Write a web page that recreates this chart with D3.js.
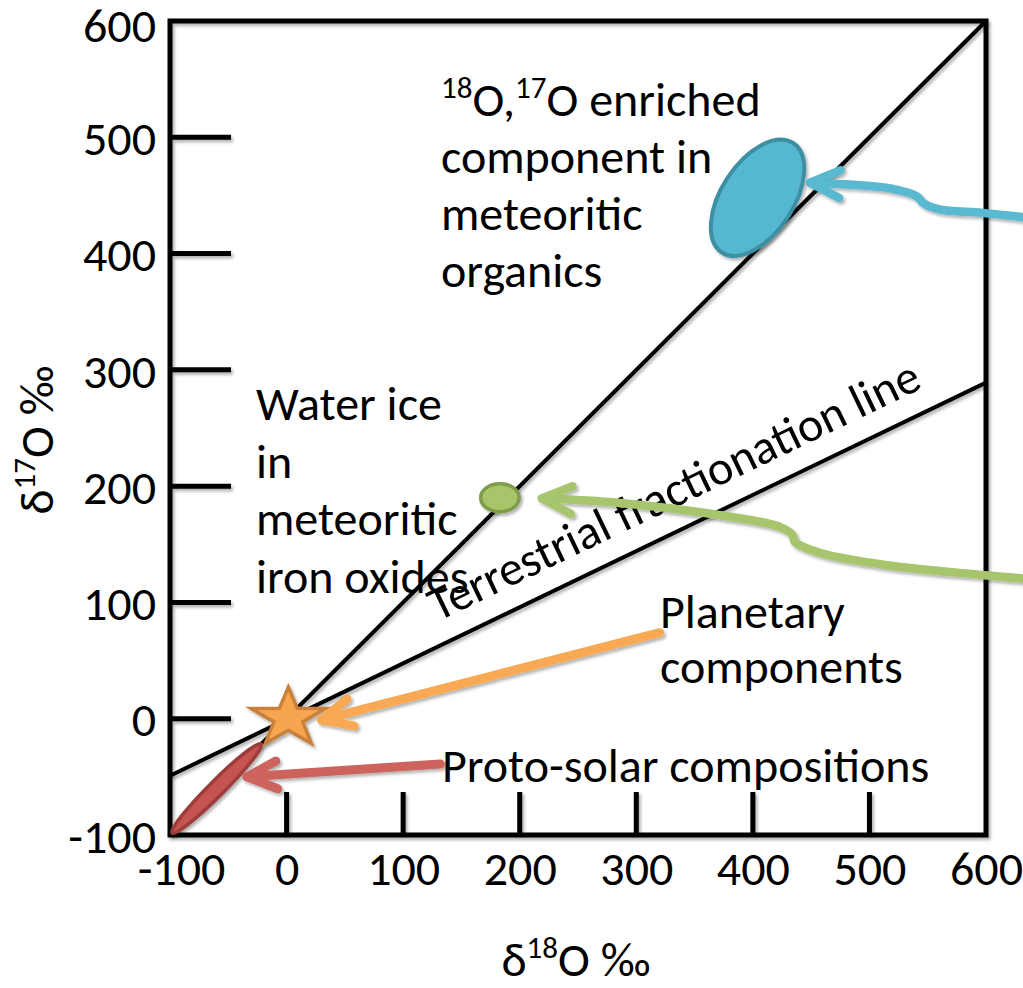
<!DOCTYPE html>
<html><head><meta charset="utf-8">
<script src="https://cdn.jsdelivr.net/npm/d3@7"></script>
<style>
body{margin:0;background:#fff}
svg{display:block}
text{font-family:Carlito,Calibri,Lato,sans-serif;fill:#000}
</style>
</head><body>
<svg id="chart" width="1023" height="988"></svg>
<script>
// ---- data ----
const xTickValues = [-100, 0, 100, 200, 300, 400, 500, 600];
const yTickValues = [-100, 0, 100, 200, 300, 400, 500, 600];
const innerTickValues = [0, 100, 200, 300, 400, 500];
const oneToOneLine = [[-100, -100], [600, 600]];
const terrestrialLine = [[-100, -49], [600, 289]];
const organicsEllipse = {cx: 404, cy: 448, a: 56, b: 31, angle: 57};
const waterIceEllipse = {cx: 183, cy: 190, a: 16.5, b: 12, angle: 0};
const protoSolarEllipse = {cx: -60, cy: -60, a: 54, b: 6.5, angle: 45};
const planetaryStar = {x: 1.5, y: 0.5};
const blueArrow = [[449, 461], [489, 459], [518, 456], [541, 449], [546, 443.5], [560, 438], [597, 435], [638, 430.6]];
const greenArrow = [[219, 189.5], [286, 185.5], [372, 175], [423, 165], [434, 158], [436, 152], [458, 142.5], [515, 132], [597, 123.6], [638, 120]];
const orangeArrow = [[30, -1], [320, 74]];
const redArrow = [[-34, -50], [132, -39]];

// ---- scales ----
const svg = d3.select("#chart");
const x = d3.scaleLinear().domain([-100, 600]).range([170, 986]);
const y = d3.scaleLinear().domain([-100, 600]).range([835, 21]);

const defs = svg.append("defs");
const f = defs.append("filter").attr("id", "shadow").attr("filterUnits", "userSpaceOnUse")
  .attr("x", 0).attr("y", 0).attr("width", 1023).attr("height", 988);
f.append("feDropShadow").attr("dx", 2).attr("dy", 2.5).attr("stdDeviation", 1.6)
  .attr("flood-color", "#000").attr("flood-opacity", 0.3);

const FS = 48, SUP = 31, SUPDY = 18;

// ---- frame & ticks ----
const g = svg.append("g").attr("filter", "url(#shadow)");
g.append("rect").attr("x", x(-100)).attr("y", y(600))
  .attr("width", x(600) - x(-100)).attr("height", y(-100) - y(600))
  .attr("fill", "none").attr("stroke", "#000").attr("stroke-width", 5);
g.selectAll(".yt").data(innerTickValues).join("line")
  .attr("x1", x(-100)).attr("x2", x(-100) + 61)
  .attr("y1", d => y(d)).attr("y2", d => y(d))
  .attr("stroke", "#000").attr("stroke-width", 5);
g.selectAll(".xt").data(innerTickValues).join("line")
  .attr("x1", d => x(d)).attr("x2", d => x(d))
  .attr("y1", y(-100)).attr("y2", y(-100) - 43)
  .attr("stroke", "#000").attr("stroke-width", 5);

// axis labels
const fmt = d => String(d);
const yAxis = svg.append("g").attr("transform", `translate(${x(-100)},0)`)
  .call(d3.axisLeft(y).tickValues(yTickValues).tickSize(0).tickPadding(14).tickFormat(fmt));
yAxis.select(".domain").remove();
yAxis.selectAll("text").attr("font-size", FS).attr("font-family", null)
  .attr("dy", d => d === 600 ? "0.42em" : "0.36em");

const xAxis = svg.append("g").attr("transform", `translate(0,${y(-100)})`)
  .call(d3.axisBottom(x).tickValues(xTickValues).tickSize(0).tickFormat(fmt));
xAxis.select(".domain").remove();
xAxis.selectAll("text").attr("font-size", FS).attr("font-family", null)
  .attr("y", 50).attr("dy", 0)
  .attr("dx", d => d === -100 ? 11 : 0);

// ---- reference lines ----
const lineGen = d3.line().x(d => x(d[0])).y(d => y(d[1]));
const lg = svg.append("g").attr("filter", "url(#shadow)");
lg.append("path").attr("d", lineGen(oneToOneLine)).attr("stroke", "#000").attr("stroke-width", 4).attr("fill", "none");
lg.append("path").attr("d", lineGen(terrestrialLine)).attr("stroke", "#000").attr("stroke-width", 4).attr("fill", "none");

// ---- text ----
function multiline(lines, x0, y0, dy) {
  const t = svg.append("text").attr("font-size", FS);
  lines.forEach((ln, i) => t.append("tspan").attr("x", x0).attr("y", y0 + i * dy).text(ln));
  return t;
}
const t1 = svg.append("text").attr("font-size", FS).attr("x", 441).attr("y", 116);
t1.append("tspan").attr("font-size", SUP).attr("dy", -SUPDY).text("18");
t1.append("tspan").attr("dy", SUPDY).text("O,");
t1.append("tspan").attr("font-size", SUP).attr("dy", -SUPDY).text("17");
t1.append("tspan").attr("dy", SUPDY).text("O enriched");
multiline(["component in", "meteoritic", "organics"], 441, 173, 57);
multiline(["Water ice", "in", "meteoritic", "iron oxides"], 256, 420, 57.5);
multiline(["Planetary", "components"], 660, 628, 55);
multiline(["Proto-solar compositions"], 442, 782, 0);

// terrestrial label along line
{
  const p0 = [x(terrestrialLine[0][0]), y(terrestrialLine[0][1])];
  const p1 = [x(terrestrialLine[1][0]), y(terrestrialLine[1][1])];
  const ang = Math.atan2(p1[1] - p0[1], p1[0] - p0[0]);
  const s = 138;
  const t = (s - terrestrialLine[0][0]) / (terrestrialLine[1][0] - terrestrialLine[0][0]);
  const fx = p0[0] + t * (p1[0] - p0[0]), fy = p0[1] + t * (p1[1] - p0[1]);
  const d = 22.5;
  const nx = Math.sin(ang), ny = -Math.cos(ang);
  svg.append("text").attr("font-size", FS)
    .attr("transform", `translate(${fx + d * nx},${fy + d * ny}) rotate(${ang * 180 / Math.PI})`)
    .text("Terrestrial fractionation line");
}

// axis titles
const xt = svg.append("text").attr("font-size", FS).attr("text-anchor", "middle").attr("x", 576).attr("y", 976);
xt.append("tspan").text("δ");
xt.append("tspan").attr("font-size", SUP).attr("dy", -SUPDY).text("18");
xt.append("tspan").attr("dy", SUPDY).text("O ‰");
const yt = svg.append("text").attr("font-size", FS).attr("text-anchor", "middle")
  .attr("transform", "translate(53,440) rotate(-90)");
yt.append("tspan").text("δ");
yt.append("tspan").attr("font-size", SUP).attr("dy", -SUPDY).text("17");
yt.append("tspan").attr("dy", SUPDY).text("O ‰");

// ---- shapes ----
const sg = svg.append("g").attr("filter", "url(#shadow)");
function drawEllipse(e, fill, stroke, sw) {
  const cx = x(e.cx), cy = y(e.cy);
  sg.append("ellipse").attr("cx", cx).attr("cy", cy)
    .attr("rx", x(e.cx + e.a) - cx).attr("ry", cy - y(e.cy + e.b))
    .attr("transform", `rotate(${-e.angle},${cx},${cy})`)
    .attr("fill", fill).attr("stroke", stroke).attr("stroke-width", sw);
}
drawEllipse(organicsEllipse, "#57b8d0", "#3d8fa4", 4);
drawEllipse(waterIceEllipse, "#a8c56b", "#7e9c4a", 3.5);
drawEllipse(protoSolarEllipse, "#c5534f", "#9d3d3a", 3.5);

// star
{
  const cx = x(planetaryStar.x), cy = y(planetaryStar.y);
  const Rx = 39, Ry = 31, k = 0.39;
  const pts = d3.range(10).map(i => {
    const a = -Math.PI / 2 + i * Math.PI / 5;
    const r = i % 2 === 0 ? 1 : k;
    return [cx + Rx * r * Math.cos(a), cy + Ry * r * Math.sin(a)];
  });
  sg.append("polygon").attr("points", pts.map(p => p.join(",")).join(" "))
    .attr("fill", "#f7a64f").attr("stroke", "#c8803b").attr("stroke-width", 3.5).attr("stroke-linejoin", "miter");
}

// ---- arrows ----
const ag = svg.append("g").attr("filter", "url(#shadow)");
function drawArrow(pts, color, w, curved) {
  const gen = d3.line().x(d => x(d[0])).y(d => y(d[1]));
  if (curved) gen.curve(d3.curveCatmullRom.alpha(0.5));
  ag.append("path").attr("d", gen(pts)).attr("fill", "none").attr("stroke", color)
    .attr("stroke-width", w).attr("stroke-linecap", "round").attr("stroke-linejoin", "round");
  const tx = x(pts[0][0]), ty = y(pts[0][1]);
  const nx = x(pts[1][0]), ny = y(pts[1][1]);
  const base = Math.atan2(ny - ty, nx - tx);
  const L = 33, half = 25 * Math.PI / 180;
  const a1 = [tx + L * Math.cos(base - half), ty + L * Math.sin(base - half)];
  const a2 = [tx + L * Math.cos(base + half), ty + L * Math.sin(base + half)];
  ag.append("path").attr("d", `M${a1[0]},${a1[1]}L${tx},${ty}L${a2[0]},${a2[1]}`)
    .attr("fill", "none").attr("stroke", color).attr("stroke-width", w)
    .attr("stroke-linecap", "round").attr("stroke-linejoin", "round");
}
drawArrow(blueArrow, "#58b9d1", 8.5, true);
drawArrow(greenArrow, "#a7c56c", 8.5, true);
drawArrow(orangeArrow, "#f9a952", 9, false);
drawArrow(redArrow, "#cd645d", 9, false);
</script>
</body></html>
